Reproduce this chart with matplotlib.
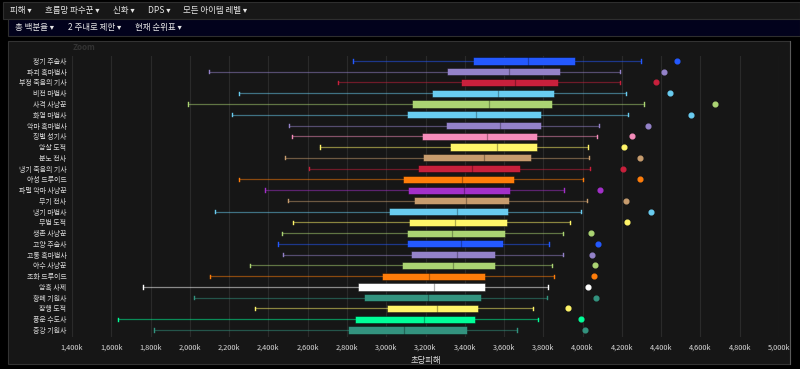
import matplotlib
matplotlib.use("Agg")
import matplotlib.pyplot as plt
from matplotlib.patches import Rectangle
from matplotlib.colors import to_rgba
from matplotlib.ticker import FuncFormatter

plt.rcParams["font.family"] = ["Noto Sans CJK KR", "DejaVu Sans"]

# spec names, top to bottom
SPECS = ["정기 주술사", "파괴 흑마법사", "부정 죽음의 기사", "비전 마법사", "사격 사냥꾼",
         "화염 마법사", "악마 흑마법사", "징벌 성기사", "암살 도적", "분노 전사",
         "냉기 죽음의 기사", "야성 드루이드", "파멸 악마 사냥꾼", "무기 전사", "냉기 마법사",
         "무법 도적", "생존 사냥꾼", "고양 주술사", "고통 흑마법사", "야수 사냥꾼",
         "조화 드루이드", "암흑 사제", "황폐 기원사", "잠행 도적", "풍운 수도사", "증강 기원사"]
COLORS = ["#2459ff", "#9482c9", "#c8203c", "#69ccf0", "#abd473",
          "#69ccf0", "#9482c9", "#f58cba", "#fff569", "#c79c6e",
          "#c8203c", "#ff7d0a", "#a330c9", "#c79c6e", "#69ccf0",
          "#fff569", "#abd473", "#2459ff", "#9482c9", "#abd473",
          "#ff7d0a", "#ffffff", "#33937f", "#fff569", "#00ff98", "#33937f"]

# values in thousands of DPS
WHISK_LO = [2832, 2098, 2754, 2252, 1989, 2215, 2505, 2520, 2661, 2486,
            2608, 2250, 2381, 2500, 2130, 2523, 2471, 2449, 2474, 2306,
            2101, 1760, 2023, 2332, 1633, 1819]
Q1 = [3443, 3311, 3379, 3233, 3129, 3104, 3303, 3184, 3325, 3186,
      3162, 3087, 3109, 3141, 3014, 3117, 3107, 3107, 3128, 3078,
      2977, 2858, 2888, 3005, 2842, 2805]
MEDIAN = [3723, 3625, 3657, 3567, 3525, 3455, 3579, 3515, 3566, 3496,
          3437, 3384, 3398, 3404, 3360, 3350, 3335, 3382, 3359, 3338,
          3218, 3245, 3214, 3260, 3194, 3092]
Q3 = [3963, 3883, 3873, 3853, 3842, 3788, 3788, 3767, 3766, 3735,
      3682, 3652, 3628, 3625, 3618, 3613, 3606, 3593, 3555, 3552,
      3501, 3501, 3484, 3465, 3453, 3413]
WHISK_HI = [4297, 4189, 4189, 4219, 4314, 4231, 4082, 4075, 4027, 4032,
            4037, 4003, 3903, 4024, 3992, 3937, 3898, 3830, 3901, 3845,
            3853, 3822, 3817, 3747, 3771, 3666]
OUTLIER = [4479, 4413, 4372, 4443, 4674, 4552, 4331, 4253, 4209, 4294,
           4207, 4294, 4087, 4219, 4350, 4224, 4041, 4077, 4048, 4065,
           4058, 4026, 4068, 3927, 3993, 4012]

W, H = 800, 369
fig = plt.figure(figsize=(W / 100, H / 100), dpi=100, facecolor="black")


def px_rect(x0, y0, x1, y1, fc, ec, lw=0.8):
    fig.patches.append(Rectangle((x0 / W, 1 - y1 / H), (x1 - x0) / W, (y1 - y0) / H,
                                 transform=fig.transFigure, facecolor=fc,
                                 edgecolor=ec, linewidth=lw, zorder=-10))


# menu bars
px_rect(3, 2, 800, 19, "#171717", "#2e2e2e")
px_rect(8, 19, 800, 36, "#02021c", "#2e2e2e")
# chart panel
px_rect(8, 41, 790, 364, "#161616", "#333333")
fig.add_artist(plt.Line2D([790 / W, 790 / W], [1 - 364 / H, 1 - 41 / H],
                          transform=fig.transFigure, color="#5a5a5a", lw=0.8, zorder=-9))

menu1 = [(10, "피해 ▾"), (45, "흐름망 파수꾼 ▾"), (113, "신화 ▾"), (148, "DPS ▾"), (183, "모든 아이템 레벨 ▾")]
for x, t in menu1:
    fig.text(x / W, 1 - 10.5 / H, t, color="#e6e6e6", fontsize=6.1, va="center", ha="left")
menu2 = [(15, "총 백분율 ▾"), (68, "2 주내로 제한 ▾"), (135, "현재 순위표 ▾")]
for x, t in menu2:
    fig.text(x / W, 1 - 27.5 / H, t, color="#e6e6e6", fontsize=6.1, va="center", ha="left")

fig.text(73 / W, 1 - 48 / H, "Zoom", color="#333333", fontsize=5.8, fontweight="bold",
         va="center", ha="left")

ax = fig.add_axes([72 / W, 1 - 337 / H, (779 - 72) / W, (337 - 56) / H])
ax.set_facecolor("#161616")

stats = []
for i, name in enumerate(SPECS):
    stats.append(dict(label=name, whislo=WHISK_LO[i], q1=Q1[i], med=MEDIAN[i],
                      q3=Q3[i], whishi=WHISK_HI[i], fliers=[OUTLIER[i]]))

pos = list(range(len(SPECS)))
bp = ax.bxp(stats, positions=pos, orientation="horizontal", widths=0.66,
            patch_artist=True, capwidths=0.3, showfliers=True)

for i, c in enumerate(COLORS):
    bp["boxes"][i].set_facecolor(c)
    bp["boxes"][i].set_edgecolor((0, 0, 0, 0.45))
    bp["boxes"][i].set_linewidth(0.6)
    bp["medians"][i].set_color((0, 0, 0, 0.3))
    bp["medians"][i].set_linewidth(0.9)
    for w in bp["whiskers"][2 * i:2 * i + 2]:
        w.set_color(to_rgba(c, 0.5))
        w.set_linewidth(0.9)
    for cp in bp["caps"][2 * i:2 * i + 2]:
        cp.set_color(c)
        cp.set_linewidth(1.0)
    fl = bp["fliers"][i]
    fl.set_marker("o")
    fl.set_markersize(3.4)
    fl.set_markerfacecolor(c)
    fl.set_markeredgecolor(c)

ax.set_xlim(1400, 5000)
ax.set_ylim(len(SPECS) - 1 + 0.65, -0.46)
ax.set_xticks(range(1400, 5001, 200))
ax.xaxis.set_major_formatter(FuncFormatter(lambda v, p: f"{int(v):,}k"))
ax.set_yticks(pos)
ax.set_yticklabels(SPECS)
ax.grid(axis="x", color="#2a2a2a", linewidth=0.8)
ax.set_axisbelow(True)
for s in ax.spines.values():
    s.set_visible(False)
ax.tick_params(axis="y", length=0, colors="#d8d8d8", labelsize=5.0, pad=4)
ax.tick_params(axis="x", length=0, colors="#d8d8d8", labelsize=5.3, pad=5)
ax.set_xlabel("초당피해", color="#e0e0e0", fontsize=6, labelpad=3)

fig.savefig("out.png", dpi=100, facecolor="black")
